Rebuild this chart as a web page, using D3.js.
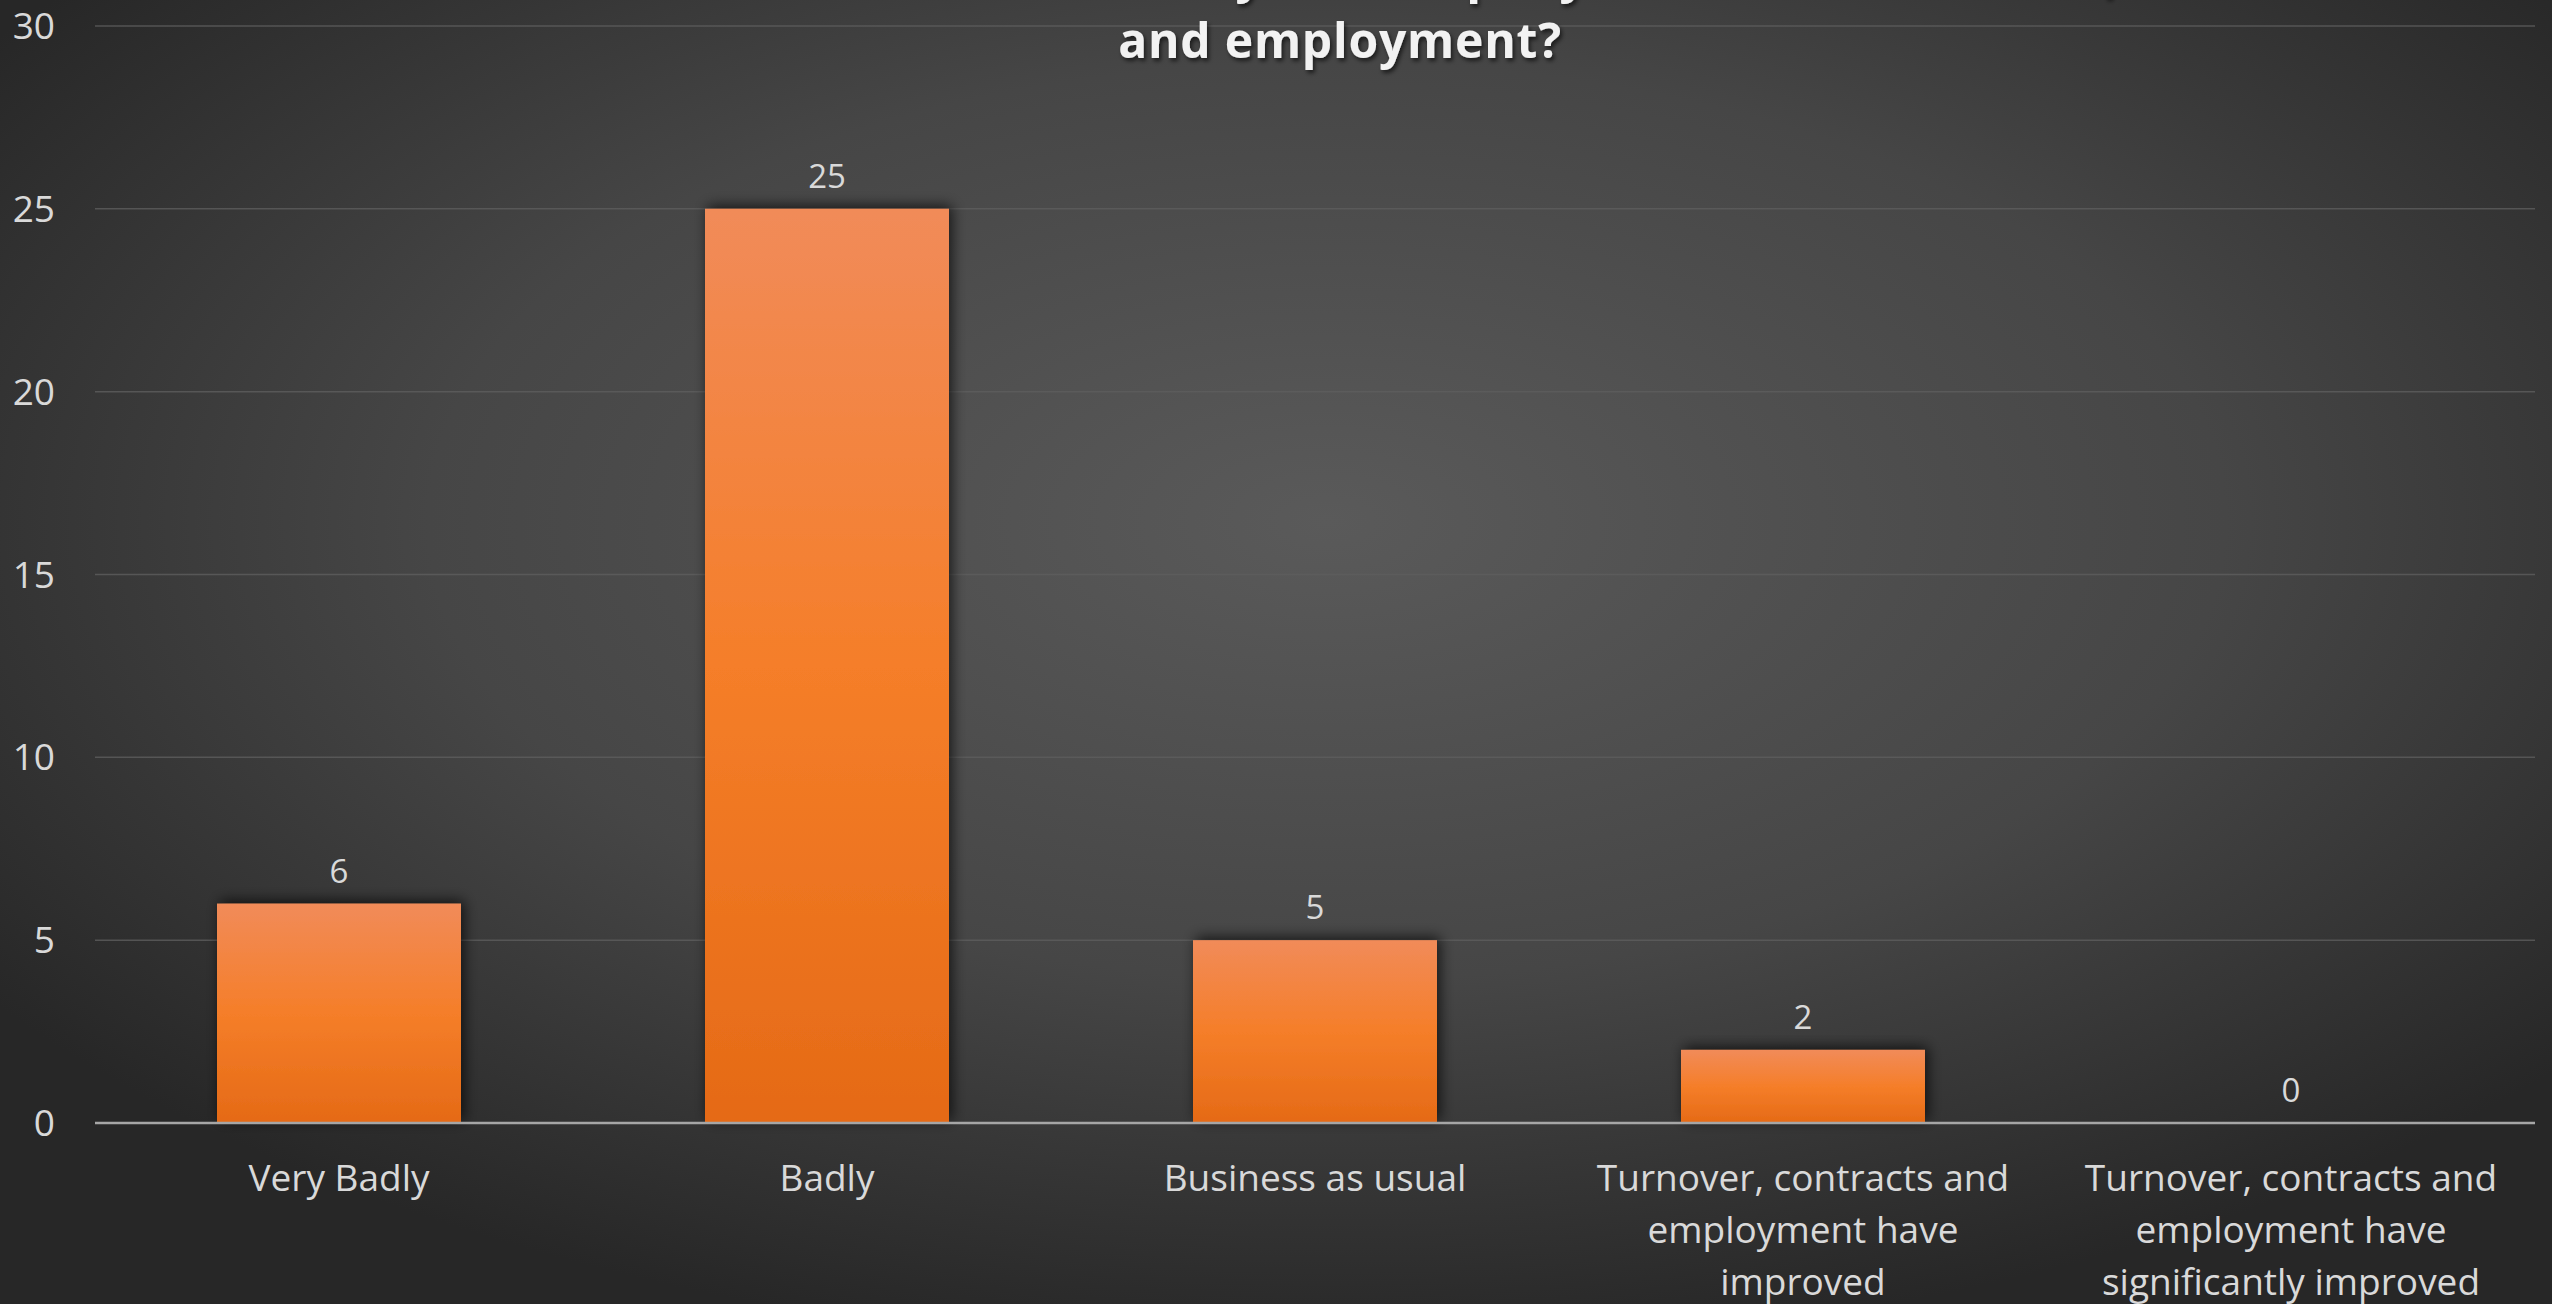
<!DOCTYPE html>
<html>
<head>
<meta charset="utf-8">
<script src="https://cdn.jsdelivr.net/npm/d3@7"></script>
<style>
  html, body { margin: 0; padding: 0; background: #2a2a2a; overflow: hidden; }
  svg { display: block; }
</style>
</head>
<body>
<svg id="chart" width="2552" height="1304"></svg>
<script>
// ---- data ----
const categories = [
  "Very Badly",
  "Badly",
  "Business as usual",
  "Turnover, contracts and employment have improved",
  "Turnover, contracts and employment have significantly improved"
];
const values = [6, 25, 5, 2, 0];
const yTicks = [0, 5, 10, 15, 20, 25, 30];
const titleLines = [
  "How has the COVID-19 crisis affected your company in terms of turnover, contracts",
  "and employment?"
];

// ---- layout ----
const W = 2552, H = 1304;
const plot = { left: 95, right: 2535, top: 26, bottom: 1123 };
const svg = d3.select("#chart");
const defs = svg.append("defs");

const bg = defs.append("radialGradient").attr("id", "bg")
  .attr("cx", "52%").attr("cy", "40%").attr("r", "64%")
  .attr("gradientUnits", "objectBoundingBox");
bg.append("stop").attr("offset", "0%").attr("stop-color", "#5a5a5a");
bg.append("stop").attr("offset", "55%").attr("stop-color", "#464646");
bg.append("stop").attr("offset", "100%").attr("stop-color", "#272727");

const barGrad = defs.append("linearGradient").attr("id", "barGrad")
  .attr("x1", 0).attr("y1", 0).attr("x2", 0).attr("y2", 1);
barGrad.append("stop").attr("offset", "0%").attr("stop-color", "#f18b59");
barGrad.append("stop").attr("offset", "50%").attr("stop-color", "#f57e29");
barGrad.append("stop").attr("offset", "100%").attr("stop-color", "#e56a16");

const shadow = defs.append("filter").attr("id", "barShadow")
  .attr("x", "-20%").attr("y", "-20%").attr("width", "140%").attr("height", "140%");
shadow.append("feDropShadow").attr("dx", 3).attr("dy", -3)
  .attr("stdDeviation", 7).attr("flood-color", "#000").attr("flood-opacity", 0.7);

const tShadow = defs.append("filter").attr("id", "titleShadow")
  .attr("x", "-10%").attr("y", "-30%").attr("width", "120%").attr("height", "160%");
tShadow.append("feDropShadow").attr("dx", 2).attr("dy", 3)
  .attr("stdDeviation", 2).attr("flood-color", "#000").attr("flood-opacity", 0.6);

svg.append("rect").attr("width", W).attr("height", H).attr("fill", "url(#bg)");

// ---- scales ----
const x = d3.scaleBand().domain(categories)
  .range([plot.left, plot.right]).paddingInner(0.5).paddingOuter(0.25);
const y = d3.scaleLinear().domain([0, 30]).range([plot.bottom, plot.top]);

// gridlines
svg.append("g").selectAll("line").data(yTicks.filter(d => d !== 0)).join("line")
  .attr("x1", plot.left).attr("x2", plot.right)
  .attr("y1", d => y(d)).attr("y2", d => y(d))
  .attr("stroke", "#5e5e5e").attr("stroke-opacity", 0.8).attr("stroke-width", 1.5);

// y axis labels
const yAxis = d3.axisLeft(y).tickValues(yTicks).tickSize(0).tickPadding(0);
const yg = svg.append("g").attr("transform", `translate(55,0)`).call(yAxis);
yg.select(".domain").remove();
yg.selectAll("text")
  .attr("font-family", "'Open Sans', sans-serif").attr("font-size", 37)
  .attr("fill", "#d9d9d9").attr("dy", "0.34em");

// bars
svg.append("g").selectAll("rect").data(values).join("rect")
  .attr("x", (d, i) => x(categories[i]))
  .attr("y", d => y(d))
  .attr("width", x.bandwidth())
  .attr("height", d => y(0) - y(d))
  .attr("fill", "url(#barGrad)")
  .attr("filter", "url(#barShadow)")
  .style("display", d => d > 0 ? null : "none");

// zero axis line
svg.append("line").attr("x1", plot.left).attr("x2", plot.right)
  .attr("y1", y(0)).attr("y2", y(0))
  .attr("stroke", "#a6a6a6").attr("stroke-width", 2.5);

// value labels
svg.append("g").selectAll("text").data(values).join("text")
  .attr("x", (d, i) => x(categories[i]) + x.bandwidth() / 2)
  .attr("y", d => y(d) - 21)
  .attr("text-anchor", "middle")
  .attr("font-family", "'Open Sans', sans-serif").attr("font-size", 33)
  .attr("fill", "#d9d9d9")
  .text(d => d);

// category labels with wrapping
const xAxis = d3.axisBottom(x).tickSize(0).tickPadding(0);
const xg = svg.append("g").attr("transform", `translate(0,${y(0)})`).call(xAxis);
xg.select(".domain").remove();
xg.selectAll("text")
  .attr("font-family", "'Open Sans', sans-serif").attr("font-size", 37)
  .attr("fill", "#d9d9d9").attr("y", 68).attr("dy", 0)
  .each(function(d) {
    const t = d3.select(this);
    const words = d.split(" ");
    t.text(null);
    const maxW = 450;
    let line = [];
    let tspan = t.append("tspan").attr("x", 0).attr("dy", 0);
    for (const w of words) {
      line.push(w);
      tspan.text(line.join(" "));
      if (tspan.node().getComputedTextLength() > maxW && line.length > 1) {
        line.pop();
        tspan.text(line.join(" "));
        line = [w];
        tspan = t.append("tspan").attr("x", 0).attr("dy", 52).text(w);
      }
    }
  });

// title
const title = svg.append("text")
  .attr("x", 1340).attr("y", -8)
  .attr("text-anchor", "middle")
  .attr("font-family", "'Open Sans', sans-serif").attr("font-weight", "bold")
  .attr("font-size", 48).attr("letter-spacing", 0.8).attr("fill", "#f2f2f2")
  .attr("filter", "url(#titleShadow)");
title.selectAll("tspan").data(titleLines).join("tspan")
  .attr("x", 1340).attr("dy", (d, i) => i === 0 ? 0 : 66)
  .text(d => d);
</script>
</body>
</html>
